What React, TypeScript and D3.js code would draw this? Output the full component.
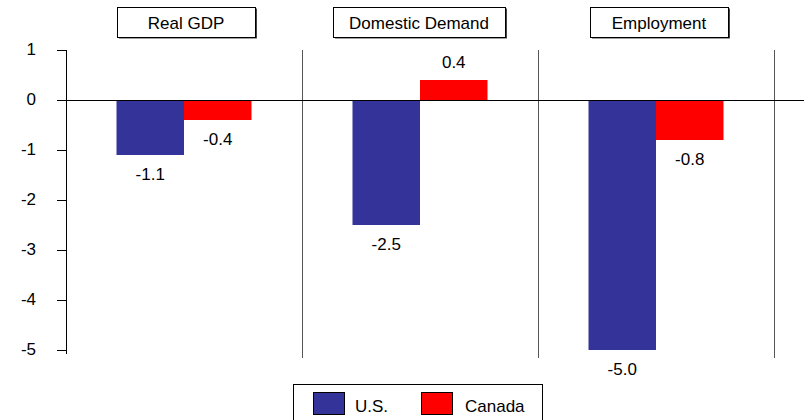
import React from "react";
import * as d3 from "d3";

const categories = ["Real GDP", "Domestic Demand", "Employment"];
const seriesNames = ["U.S.", "Canada"];
const usValues = [-1.1, -2.5, -5.0];
const canadaValues = [-0.4, 0.4, -0.8];
const yTicks = [1, 0, -1, -2, -3, -4, -5];

const colors = ["#333399", "#FF0000"];
const titleBoxWidths = [138, 172, 138];
const titleBoxOffsets = [2, -1, 3];

const W = 806;
const H = 420;
const FONT = "'Liberation Sans', Arial, Helvetica, sans-serif";

export default function App() {
  const x0 = d3.scaleBand<string>().domain(categories).range([66, 774]).paddingInner(0).paddingOuter(0);
  const groupW = 135;
  const x1 = d3.scaleBand<string>().domain(seriesNames).range([0, groupW]);
  const y = d3.scaleLinear().domain([-5, 1]).range([350, 50]);
  const seriesValues = [usValues, canadaValues];

  return (
    <svg
      width={W}
      height={H}
      style={{ position: "absolute", left: 0, top: 0, display: "block" }}
      fontFamily={FONT}
    >
      <rect x={0} y={0} width={W} height={H} fill="#fff" />
      {/* separators */}
      {categories.map((c) => {
        const xx = Math.round((x0(c) as number) + x0.bandwidth()) + 0.5;
        return <line key={"sep" + c} x1={xx} x2={xx} y1={50} y2={358} stroke="#555" strokeWidth={1} />;
      })}
      {/* bars */}
      {categories.map((c, i) =>
        seriesNames.map((s, j) => {
          const v = seriesValues[j][i];
          const bx = (x0(c) as number) + (x0.bandwidth() - groupW) / 2 + (x1(s) as number);
          const y0 = y(0);
          const yv = y(v);
          return (
            <rect
              key={c + s}
              x={bx}
              y={Math.min(y0, yv)}
              width={x1.bandwidth()}
              height={Math.abs(yv - y0)}
              fill={colors[j]}
            />
          );
        })
      )}
      {/* value labels */}
      {categories.map((c, i) =>
        seriesNames.map((s, j) => {
          const v = seriesValues[j][i];
          const bx = (x0(c) as number) + (x0.bandwidth() - groupW) / 2 + (x1(s) as number) + x1.bandwidth() / 2;
          const ty = v >= 0 ? y(v) - 12 : y(v) + 25;
          return (
            <text key={"l" + c + s} x={bx} y={ty} textAnchor="middle" fontSize={17} fill="#000">
              {v.toFixed(1)}
            </text>
          );
        })
      )}
      {/* zero line */}
      <line x1={66} x2={804} y1={y(0) + 0.5} y2={y(0) + 0.5} stroke="#000" strokeWidth={1} />
      {/* y axis */}
      <line x1={66.5} x2={66.5} y1={50} y2={354} stroke="#000" strokeWidth={1} />
      {yTicks.map((t) => (
        <g key={"t" + t}>
          <line x1={57} x2={66} y1={y(t) + 0.5} y2={y(t) + 0.5} stroke="#000" strokeWidth={1} />
          <text x={36} y={y(t) + 5} textAnchor="end" fontSize={17} fill="#000">
            {String(t)}
          </text>
        </g>
      ))}
      {/* title boxes */}
      {categories.map((c, i) => {
        const cx = (x0(c) as number) + x0.bandwidth() / 2 + titleBoxOffsets[i];
        const bw = titleBoxWidths[i];
        const bx = Math.round(cx - bw / 2) + 0.5;
        return (
          <g key={"tb" + c}>
            <rect x={bx + 1.5} y={8.5} width={bw} height={30} fill="#444" />
            <rect x={bx} y={7.5} width={bw} height={30} fill="#fff" stroke="#000" strokeWidth={1} />
            <text x={cx} y={29} textAnchor="middle" fontSize={17} fill="#000">
              {c}
            </text>
          </g>
        );
      })}
      {/* legend */}
      <g>
        <rect x={293.5} y={384.5} width={249} height={40} fill="#fff" stroke="#000" strokeWidth={1} />
        <rect x={313.5} y={392.5} width={31} height={22} fill={colors[0]} stroke="#000" strokeWidth={1} />
        <text x={355} y={412} fontSize={17} fill="#000">{seriesNames[0]}</text>
        <rect x={421.5} y={392.5} width={31} height={22} fill={colors[1]} stroke="#000" strokeWidth={1} />
        <text x={465} y={412} fontSize={17} fill="#000">{seriesNames[1]}</text>
      </g>
    </svg>
  );
}
